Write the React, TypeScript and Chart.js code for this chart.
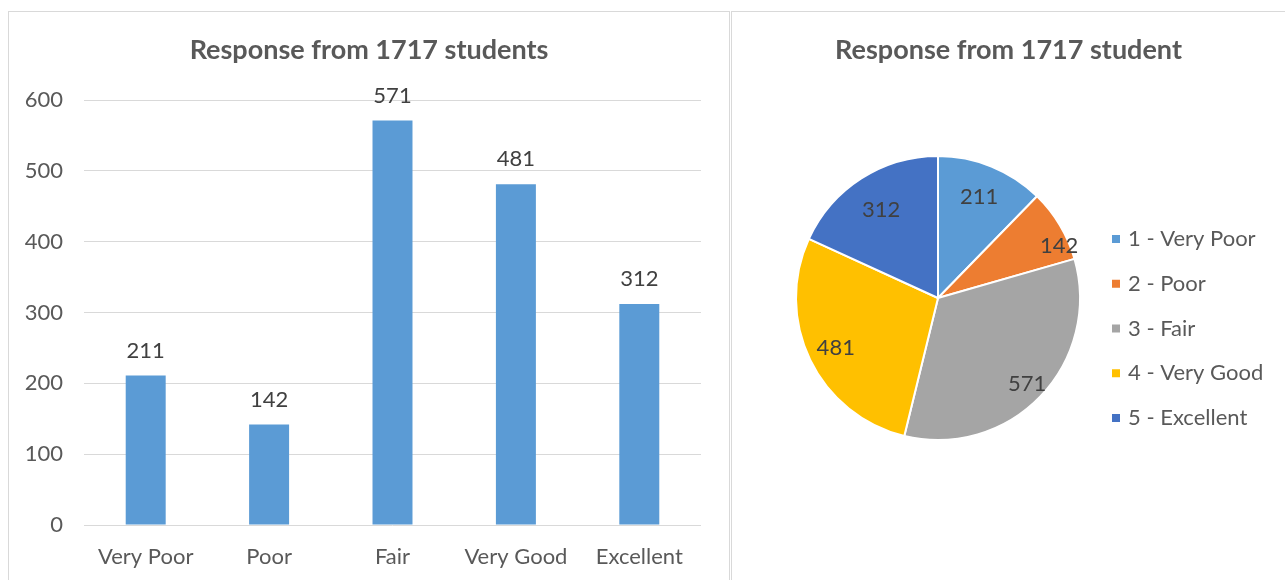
import React, { useEffect, useRef } from 'react';
import { Chart, registerables, layouts } from 'chart.js';

Chart.register(...registerables);

// ---------------- data ----------------
const categories = ['Very Poor', 'Poor', 'Fair', 'Very Good', 'Excellent'];
const responses = [211, 142, 571, 481, 312];
const pieLabels = ['1 - Very Poor', '2 - Poor', '3 - Fair', '4 - Very Good', '5 - Excellent'];
const pieColors = ['#5B9BD5', '#ED7D31', '#A5A5A5', '#FFC000', '#4472C4'];
const yTicks = [0, 100, 200, 300, 400, 500, 600];
const barTitle = 'Response from 1717 students';
const pieTitle = 'Response from 1717 student';

// ---------------- styles ----------------
const FONT = 'Lato, "Open Sans", sans-serif';
const TICK_COLOR = '#595959';
const LABEL_COLOR = '#404040';
const GRID_COLOR = '#d9d9d9';
const BAR_COLOR = '#5B9BD5';
const TEXT_SIZE = 22;
const TITLE_SIZE = 27;
const pieLabelRadius = [0.77, 0.93, 0.87, 0.8, 0.74];
const pieLabelAngle = [0.5, 0.75, 0.5, 0.5, 0.5];

const barLabelPlugin = {
  id: 'barLabels',
  afterDatasetsDraw(chart: any) {
    const ctx = chart.ctx;
    const meta = chart.getDatasetMeta(0);
    const data = chart.data.datasets[0].data;
    ctx.save();
    ctx.font = `${TEXT_SIZE}px ${FONT}`;
    ctx.fillStyle = LABEL_COLOR;
    ctx.textAlign = 'center';
    ctx.textBaseline = 'middle';
    meta.data.forEach((bar: any, i: number) => {
      ctx.fillText(String(data[i]), bar.x, bar.y - 25);
    });
    ctx.restore();
  },
};

const pieLabelPlugin = {
  id: 'pieLabels',
  afterDatasetsDraw(chart: any) {
    const ctx = chart.ctx;
    const meta = chart.getDatasetMeta(0);
    const data = chart.data.datasets[0].data;
    ctx.save();
    ctx.font = `${TEXT_SIZE}px ${FONT}`;
    ctx.fillStyle = LABEL_COLOR;
    ctx.textAlign = 'center';
    ctx.textBaseline = 'middle';
    meta.data.forEach((arc: any, i: number) => {
      const a = arc.startAngle + (arc.endAngle - arc.startAngle) * pieLabelAngle[i];
      const r = arc.outerRadius * pieLabelRadius[i];
      ctx.fillText(String(data[i]), arc.x + Math.cos(a) * r, arc.y + Math.sin(a) * r);
    });
    ctx.restore();
  },
};

// A right-side layout box: reserves room beside the plot while the title stays full width
function makeSideBoxPlugin(id: string, width: number, drawFn?: (chart: any, box: any) => void) {
  return {
    id,
    beforeInit(chart: any) {
      const box: any = {
        position: 'right',
        weight: 0,
        fullSize: false,
        options: {},
        width: 0,
        height: 0,
        left: 0,
        top: 0,
        right: 0,
        bottom: 0,
        isHorizontal() {
          return false;
        },
        update(_maxWidth: number, maxHeight: number) {
          this.width = width;
          this.height = maxHeight;
        },
        draw() {
          if (drawFn) drawFn(chart, this);
        },
      };
      layouts.addBox(chart, box);
    },
  };
}

const drawSideLegend = (chart: any, box: any) => {
  const ctx = chart.ctx;
  const labels = chart.data.labels;
  const colors = chart.data.datasets[0].backgroundColor;
  ctx.save();
  ctx.font = `${TEXT_SIZE}px ${FONT}`;
  ctx.textAlign = 'left';
  ctx.textBaseline = 'middle';
  const x0 = box.left - 32;
  const y0 = 227;
  const step = 44.75;
  labels.forEach((lab: string, i: number) => {
    const y = y0 + i * step;
    ctx.fillStyle = colors[i];
    ctx.fillRect(x0, y - 4, 8, 8);
    ctx.fillStyle = TICK_COLOR;
    ctx.fillText(lab, x0 + 16, y);
  });
  ctx.restore();
};

function BarChart() {
  const ref = useRef<HTMLCanvasElement>(null);
  useEffect(() => {
    if (!ref.current) return;
    const chart = new Chart(ref.current, {
      type: 'bar',
      data: {
        labels: categories,
        datasets: [
          {
            data: responses,
            backgroundColor: BAR_COLOR,
            barPercentage: 0.324,
            categoryPercentage: 1,
          },
        ],
      },
      options: {
        animation: false,
        responsive: false,
        maintainAspectRatio: false,
        layout: { padding: { left: 0, right: 0, top: 0, bottom: 10 } },
        plugins: {
          legend: { display: false },
          tooltip: { enabled: false },
          title: {
            display: true,
            text: barTitle,
            color: TICK_COLOR,
            font: { family: FONT, size: TITLE_SIZE, weight: 'bold' },
            padding: { top: 21.8, bottom: 33.8 },
          },
        },
        scales: {
          x: {
            grid: { display: false, drawTicks: false },
            border: { display: false },
            ticks: { color: TICK_COLOR, font: { family: FONT, size: TEXT_SIZE }, padding: 19 },
            afterFit(s: any) {
              s.height = 45;
            },
          },
          y: {
            min: 0,
            max: 600,
            grid: { color: GRID_COLOR, drawTicks: false },
            border: { display: false },
            ticks: { color: TICK_COLOR, font: { family: FONT, size: TEXT_SIZE }, padding: 21 },
            afterBuildTicks(s: any) {
              s.ticks = yTicks.map((v) => ({ value: v }));
            },
            afterFit(s: any) {
              s.width = 75;
            },
          },
        },
      } as any,
      plugins: [barLabelPlugin, makeSideBoxPlugin('barRightSpace', 28)],
    });
    return () => chart.destroy();
  }, []);
  return <canvas ref={ref} width={720} height={568} style={{ position: 'absolute', left: 0, top: 0 }} />;
}

function PieChart() {
  const ref = useRef<HTMLCanvasElement>(null);
  useEffect(() => {
    if (!ref.current) return;
    const chart = new Chart(ref.current, {
      type: 'pie',
      data: {
        labels: pieLabels,
        datasets: [
          {
            data: responses,
            backgroundColor: pieColors,
            borderColor: '#ffffff',
            borderWidth: 2,
          },
        ],
      },
      options: {
        animation: false,
        responsive: false,
        maintainAspectRatio: false,
        radius: 142,
        layout: { padding: { left: 0, right: 0, top: 0, bottom: 138 } },
        plugins: {
          legend: { display: false },
          tooltip: { enabled: false },
          title: {
            display: true,
            text: pieTitle,
            color: TICK_COLOR,
            font: { family: FONT, size: TITLE_SIZE, weight: 'bold' },
            padding: { top: 21.8, bottom: 87.8 },
          },
        },
      } as any,
      plugins: [pieLabelPlugin, makeSideBoxPlugin('sideLegend', 141, drawSideLegend)],
    });
    return () => chart.destroy();
  }, []);
  return <canvas ref={ref} width={553} height={568} style={{ position: 'absolute', left: 0, top: 0 }} />;
}

export default function App() {
  const panel: React.CSSProperties = {
    position: 'absolute',
    top: 11,
    height: 600,
    border: '1px solid #d9d9d9',
    background: '#ffffff',
    boxSizing: 'border-box',
    overflow: 'hidden',
  };
  return (
    <div style={{ position: 'absolute', left: 0, top: 0, width: 1285, height: 580, overflow: 'hidden', background: '#ffffff' }}>
      <div style={{ ...panel, left: 8, width: 722 }}>
        <BarChart />
      </div>
      <div style={{ ...panel, left: 731, width: 600 }}>
        <PieChart />
      </div>
    </div>
  );
}
